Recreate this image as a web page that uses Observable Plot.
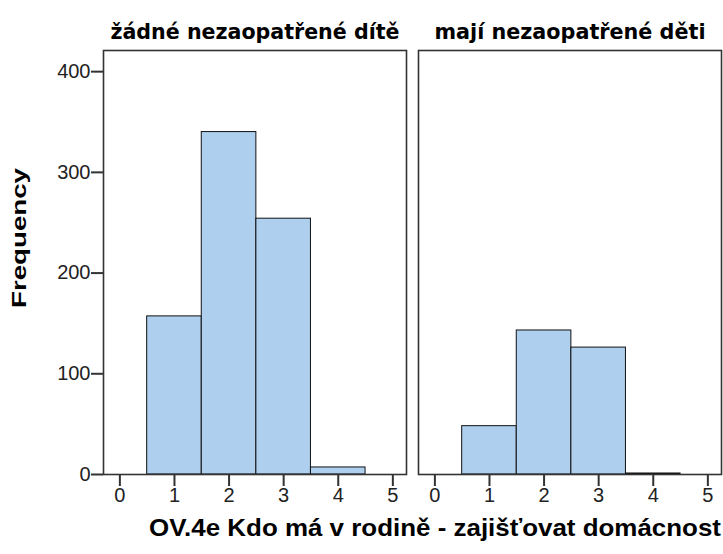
<!DOCTYPE html>
<html><head><meta charset="utf-8">
<script src="https://cdn.jsdelivr.net/npm/d3@7"></script>
<script src="https://cdn.jsdelivr.net/npm/@observablehq/plot@0.6"></script>
<style>
body{margin:0;background:#fff}
</style></head><body><div id="chart"></div>
<script>
const groups = ["žádné nezaopatřené dítě", "mají nezaopatřené děti"];
const categories = [1, 2, 3, 4];
const countsNoChildren = [157, 340, 254, 7];
const countsChildren = [48, 143, 126, 1];
const xTicks = [0, 1, 2, 3, 4, 5];
const yTicks = [0, 100, 200, 300, 400];
const xLabel = "OV.4e Kdo má v rodině - zajišťovat domácnost";
const yLabel = "Frequency";

const rows = [];
categories.forEach((c, i) => {
  rows.push({g: groups[0], x: c, n: countsNoChildren[i]});
  rows.push({g: groups[1], x: c, n: countsChildren[i]});
});

const font = "'Liberation Sans', Arial, sans-serif";
const plot = Plot.plot({
  width: 723, height: 554,
  marginLeft: 103, marginRight: 1, marginTop: 50, marginBottom: 80,
  style: {fontFamily: font, fontSize: "20px", color: "#000", background: "#fff"},
  fx: {domain: groups, paddingInner: 0.037, paddingOuter: 0, axis: null},
  x: {domain: [-0.3, 5.25]},
  y: {domain: [0, 421]},
  marks: [
    Plot.rectY(rows, {fx: "g", x1: d => d.x - 0.5, x2: d => d.x + 0.5, y: "n", fill: "#aecfee", stroke: "#111", strokeWidth: 1}),
    Plot.frame({stroke: "#333", strokeWidth: 1.6}),
    Plot.axisY({ticks: yTicks, tickFormat: "d", tickSize: 12, tickPadding: 1, label: null, strokeWidth: 2, stroke: "#333", fill: "#222", fontSize: 20}),
    Plot.axisX({ticks: xTicks, tickFormat: "d", tickSize: 12, tickPadding: 1, label: null, strokeWidth: 2, stroke: "#333", fill: "#222", fontSize: 20}),
    Plot.text(groups, {fx: d => d, text: d => d, frameAnchor: "top", lineAnchor: "bottom", dy: -12,
      fontWeight: "bold", fontSize: 22, fontFamily: "'DejaVu Sans Condensed', 'Liberation Sans Narrow', sans-serif", fill: "#000"})
  ]
});
document.getElementById("chart").appendChild(plot);
const svg = d3.select(plot);
// facet titles: stretch to reference widths
const titleLens = [289, 271];
svg.selectAll('g[aria-label="text"] text').each(function() {
  const t = d3.select(this);
  const idx = groups.indexOf(t.text());
  if (idx >= 0) t.attr("textLength", titleLens[idx]).attr("lengthAdjust", "spacingAndGlyphs");
});
svg.append("text").text(xLabel)
  .attr("x", 435).attr("y", 536).attr("text-anchor", "middle")
  .attr("textLength", 572).attr("lengthAdjust", "spacingAndGlyphs")
  .attr("font-family", font).attr("font-weight", "bold").attr("font-size", 24).attr("fill", "#000");
svg.append("text").text(yLabel)
  .attr("transform", "translate(26,238) rotate(-90)").attr("text-anchor", "middle")
  .attr("textLength", 140).attr("lengthAdjust", "spacingAndGlyphs")
  .attr("font-family", font).attr("font-weight", "bold").attr("font-size", 21).attr("fill", "#000");
</script></body></html>
